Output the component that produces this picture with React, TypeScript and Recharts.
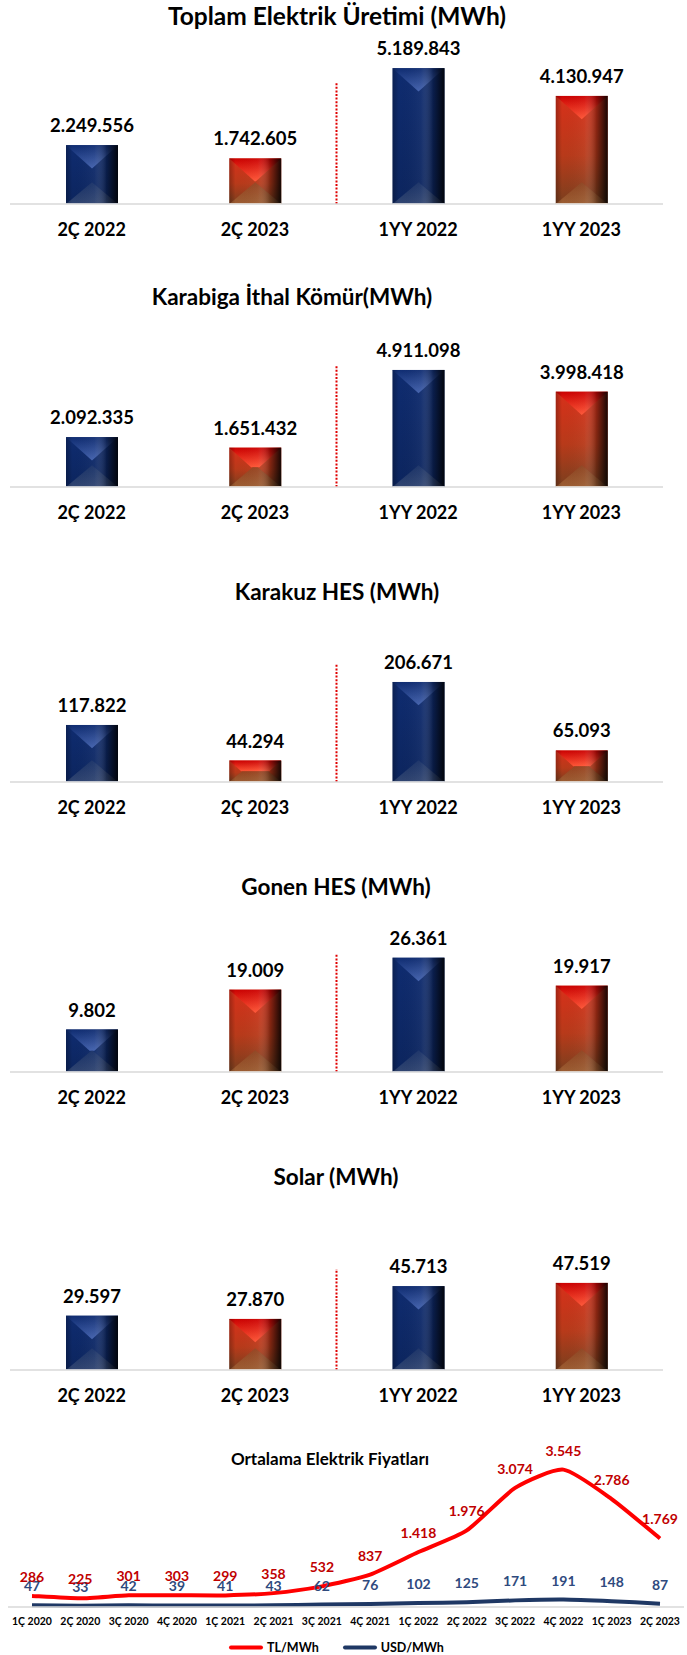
import React from "react";
import {
  BarChart,
  Bar,
  XAxis,
  YAxis,
  LabelList,
  ReferenceLine,
  LineChart,
  Line,
} from "recharts";

const FONT = "Lato, 'Open Sans', sans-serif";

// production panels
const periods = ["2Ç 2022", "2Ç 2023", "1YY 2022", "1YY 2023"];
const toplamValues = [2249556, 1742605, 5189843, 4130947];
const karabigaValues = [2092335, 1651432, 4911098, 3998418];
const karakuzValues = [117822, 44294, 206671, 65093];
const gonenValues = [9802, 19009, 26361, 19917];
const solarValues = [29597, 27870, 45713, 47519];

// price chart
const quarters = [
  "1Ç 2020", "2Ç 2020", "3Ç 2020", "4Ç 2020",
  "1Ç 2021", "2Ç 2021", "3Ç 2021", "4Ç 2021",
  "1Ç 2022", "2Ç 2022", "3Ç 2022", "4Ç 2022",
  "1Ç 2023", "2Ç 2023",
];
const tlPrices = [286, 225, 301, 303, 299, 358, 532, 837, 1418, 1976, 3074, 3545, 2786, 1769];
const usdPrices = [47, 33, 42, 39, 41, 43, 62, 76, 102, 125, 171, 191, 148, 87];

const fmt = (v: any) => String(v).replace(/\B(?=(\d{3})+(?!\d))/g, ".");

// layout of each panel (baseline y, plot height, y max, title pos, separator height px)
const panels = [
  { title: "Toplam Elektrik Üretimi (MWh)", values: toplamValues, yMax: 6000000, plotH: 157, base: 204, titleX: 337, titleY: 16, titleSize: 24.5, sepPx: 122 },
  { title: "Karabiga İthal Kömür(MWh)", values: karabigaValues, yMax: 6000000, plotH: 143, base: 487, titleX: 292, titleY: 297, titleSize: 22.5, sepPx: 121 },
  { title: "Karakuz HES (MWh)", values: karakuzValues, yMax: 250000, plotH: 121, base: 782, titleX: 337, titleY: 592, titleSize: 22.5, sepPx: 118 },
  { title: "Gonen HES (MWh)", values: gonenValues, yMax: 30000, plotH: 130, base: 1072, titleX: 336, titleY: 887, titleSize: 22.5, sepPx: 118 },
  { title: "Solar (MWh)", values: solarValues, yMax: 60000, plotH: 110, base: 1370, titleX: 336, titleY: 1177, titleSize: 22.5, sepPx: 101 },
];

const TOP_M = 40;
const AXIS_H = 40;

// excel-like smoothed line (cardinal spline with low tension)
const smoothCurve = (context: any) => {
  let pts: number[][] = [];
  const t = 1 / 10;
  return {
    areaStart() {},
    areaEnd() {},
    lineStart() {
      pts = [];
    },
    point(x: number, y: number) {
      pts.push([+x, +y]);
    },
    lineEnd() {
      if (!pts.length) return;
      context.moveTo(pts[0][0], pts[0][1]);
      for (let i = 0; i < pts.length - 1; i++) {
        const p0 = pts[i - 1] || pts[i];
        const p1 = pts[i];
        const p2 = pts[i + 1];
        const p3 = pts[i + 2] || p2;
        context.bezierCurveTo(
          p1[0] + (p2[0] - p0[0]) * t,
          p1[1] + (p2[1] - p0[1]) * t,
          p2[0] - (p3[0] - p1[0]) * t,
          p2[1] - (p3[1] - p1[1]) * t,
          p2[0],
          p2[1]
        );
      }
    },
  };
};

const Defs = () => (
  <defs>
    <linearGradient id="body-blue" x1="0" y1="0" x2="0" y2="1">
      <stop offset="0" stopColor="#0f2c70" />
      <stop offset="1" stopColor="#0c255e" />
    </linearGradient>
    <linearGradient id="top-blue" x1="0" y1="0" x2="0" y2="1">
      <stop offset="0" stopColor="#102d72" />
      <stop offset="1" stopColor="#4261ad" />
    </linearGradient>
    <linearGradient id="bot-blue" x1="0" y1="0" x2="0" y2="1">
      <stop offset="0" stopColor="#1c3468" />
      <stop offset="1" stopColor="#3d5078" />
    </linearGradient>
    <linearGradient id="body-red" x1="0" y1="0" x2="0" y2="1">
      <stop offset="0" stopColor="#d8301a" />
      <stop offset="0.55" stopColor="#b83a1a" />
      <stop offset="1" stopColor="#7a3f1e" />
    </linearGradient>
    <linearGradient id="top-red" x1="0" y1="0" x2="0" y2="1">
      <stop offset="0" stopColor="#cc0202" />
      <stop offset="1" stopColor="#ff5535" />
    </linearGradient>
    <linearGradient id="bot-red" x1="0" y1="0" x2="0" y2="1">
      <stop offset="0" stopColor="#8a4420" />
      <stop offset="1" stopColor="#a8683a" />
    </linearGradient>
    <linearGradient id="side-shade" x1="0" y1="0" x2="1" y2="0">
      <stop offset="0" stopColor="#000" stopOpacity="0.25" />
      <stop offset="0.12" stopColor="#000" stopOpacity="0" />
      <stop offset="0.55" stopColor="#fff" stopOpacity="0.04" />
      <stop offset="0.78" stopColor="#000" stopOpacity="0.3" />
      <stop offset="1" stopColor="#000" stopOpacity="0.88" />
    </linearGradient>
  </defs>
);

const BevelBar = (props: any) => {
  const { x, y, width: w, height: h, index } = props;
  if (!h || h <= 0) return null;
  const k = index % 2 === 0 ? "blue" : "red";
  const dMax = w * 0.45;
  const dt = Math.min(dMax, h / 2);
  const kt = (dt / dMax) * (w / 2);
  const bMax = w * 0.42;
  const db = Math.min(bMax, h / 2);
  const kb = (db / bMax) * (w / 2);
  return (
    <g>
      <rect x={x} y={y} width={w} height={h} fill={`url(#body-${k})`} />
      <polygon
        points={`${x},${y} ${x + w},${y} ${x + w - kt},${y + dt} ${x + kt},${y + dt}`}
        fill={`url(#top-${k})`}
      />
      <polygon
        points={`${x},${y + h} ${x + w},${y + h} ${x + w - kb},${y + h - db} ${x + kb},${y + h - db}`}
        fill={`url(#bot-${k})`}
        opacity={0.75}
      />
      <rect x={x} y={y} width={w} height={h} fill="url(#side-shade)" />
      <line
        x1={x}
        x2={x + w}
        y1={y + h - 0.5}
        y2={y + h - 0.5}
        stroke={k === "blue" ? "#8090b5" : "#e4b48a"}
      />
    </g>
  );
};

const Title = ({ text, x, y, size }: { text: string; x: number; y: number; size: number }) => (
  <div
    style={{
      position: "absolute",
      left: x,
      top: y,
      transform: "translate(-50%, -50%)",
      whiteSpace: "nowrap",
      fontFamily: FONT,
      fontWeight: 700,
      fontSize: size,
      color: "#000",
      lineHeight: 1,
    }}
  >
    {text}
  </div>
);

const Panel = ({ p }: { p: (typeof panels)[number] }) => {
  const data = periods.map((period, i) => ({ period, value: p.values[i] }));
  const sepTop = (p.sepPx / p.plotH) * p.yMax;
  // separator sits at the start of the annual (1YY 2022) slot
  const sepAt = periods[2];
  return (
    <div style={{ position: "absolute", left: 0, top: p.base - p.plotH - TOP_M }}>
      <BarChart
        width={687}
        height={TOP_M + p.plotH + AXIS_H}
        data={data}
        margin={{ top: TOP_M, right: 24, left: 10, bottom: 0 }}
      >
        <Defs />
        <XAxis
          dataKey="period"
          height={AXIS_H}
          tickLine={false}
          axisLine={{ stroke: "#d9d9d9", strokeWidth: 1.5 }}
          tickMargin={13}
          interval={0}
          tick={{ fill: "#000", fontSize: 18, fontWeight: 700, fontFamily: FONT }}
        />
        <YAxis hide domain={[0, p.yMax]} />
        <ReferenceLine
          position="start"
          segment={[
            { x: sepAt, y: 0 },
            { x: sepAt, y: sepTop },
          ]}
          stroke="#e00000"
          strokeWidth={2}
          strokeDasharray="2 1.6"
        />
        <Bar dataKey="value" barSize={52} shape={BevelBar} isAnimationActive={false}>
          <LabelList
            dataKey="value"
            position="top"
            offset={13}
            formatter={fmt}
            fill="#000"
            fontSize={18.5}
            fontWeight={700}
            fontFamily={FONT}
          />
        </Bar>
      </BarChart>
    </div>
  );
};

const priceData = quarters.map((q, i) => ({ q, tl: tlPrices[i], usd: usdPrices[i] }));

const PriceChart = () => (
  <div style={{ position: "absolute", left: 0, top: 1422 }}>
    <LineChart
      width={687}
      height={210}
      data={priceData}
      margin={{ top: 30, right: 3, left: 8, bottom: 0 }}
    >
      <XAxis
        dataKey="q"
        height={25}
        padding={{ left: 24, right: 24 }}
        tickLine={false}
        axisLine={{ stroke: "#d9d9d9", strokeWidth: 1.5 }}
        tickMargin={5}
        interval={0}
        tick={{ fill: "#000", fontSize: 10.5, fontWeight: 700, fontFamily: FONT }}
      />
      <YAxis hide domain={[0, 4000]} />
      <Line
        type={smoothCurve as any}
        dataKey="usd"
        stroke="#1f3864"
        strokeWidth={4}
        dot={false}
        isAnimationActive={false}
      >
        <LabelList
          dataKey="usd"
          position="top"
          offset={14}
          formatter={fmt}
          fill="#2f4a7e"
          fontSize={14}
          fontWeight={700}
          fontFamily={FONT}
        />
      </Line>
      <Line
        type={smoothCurve as any}
        dataKey="tl"
        stroke="#ff0000"
        strokeWidth={4}
        dot={false}
        isAnimationActive={false}
      >
        <LabelList
          dataKey="tl"
          position="top"
          offset={14}
          formatter={fmt}
          fill="#c00000"
          fontSize={14}
          fontWeight={700}
          fontFamily={FONT}
        />
      </Line>
    </LineChart>
  </div>
);

const LegendItem = ({ color, label }: { color: string; label: string }) => (
  <div style={{ display: "flex", alignItems: "center", marginRight: 24 }}>
    <div style={{ width: 34, height: 4, borderRadius: 2, background: color, marginRight: 4 }} />
    <span style={{ fontFamily: FONT, fontWeight: 700, fontSize: 12.5, color: "#000" }}>{label}</span>
  </div>
);

export default function App() {
  return (
    <div
      style={{
        position: "absolute",
        left: 0,
        top: 0,
        width: 687,
        height: 1655,
        background: "#fff",
        overflow: "hidden",
      }}
    >
      {panels.map((p) => (
        <React.Fragment key={p.title}>
          <Title text={p.title} x={p.titleX} y={p.titleY} size={p.titleSize} />
          <Panel p={p} />
        </React.Fragment>
      ))}
      <Title text="Ortalama Elektrik Fiyatları" x={330} y={1458} size={17} />
      <PriceChart />
      <div
        style={{
          position: "absolute",
          left: 229,
          top: 1647,
          transform: "translateY(-50%)",
          display: "flex",
        }}
      >
        <LegendItem color="#ff0000" label="TL/MWh" />
        <LegendItem color="#1f3864" label="USD/MWh" />
      </div>
    </div>
  );
}
